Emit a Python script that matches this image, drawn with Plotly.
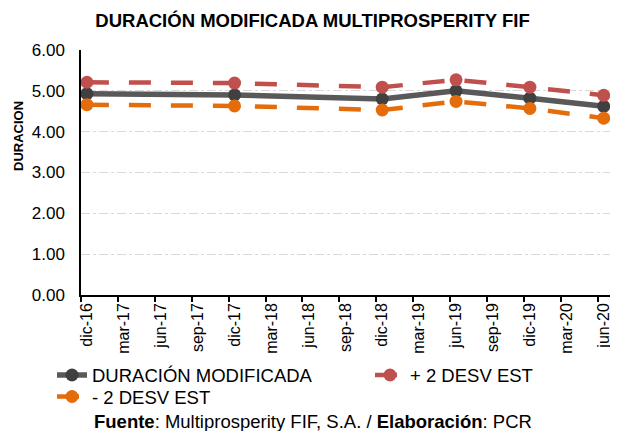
import plotly.graph_objects as go

categories = ["dic-16", "mar-17", "jun-17", "sep-17", "dic-17", "mar-18", "jun-18",
              "sep-18", "dic-18", "mar-19", "jun-19", "sep-19", "dic-19", "mar-20", "jun-20"]
obs_dates = ["dic-16", "dic-17", "dic-18", "jun-19", "dic-19", "jun-20"]
duracion = [4.93, 4.90, 4.80, 5.00, 4.82, 4.62]
mas_2de = [5.21, 5.19, 5.09, 5.27, 5.09, 4.89]
menos_2de = [4.66, 4.63, 4.53, 4.74, 4.57, 4.33]
y_ticks = [0, 1, 2, 3, 4, 5, 6]

xpos = [categories.index(d) for d in obs_dates]
FONT = "Liberation Sans, Arial, sans-serif"

fig = go.Figure()
fig.add_trace(go.Scatter(x=xpos, y=duracion, name="DURACIÓN MODIFICADA", mode="lines+markers",
                         line=dict(color="#595959", width=5.5),
                         marker=dict(color="#404040", size=13), legend="legend"))
fig.add_trace(go.Scatter(x=xpos, y=mas_2de, name="+ 2 DESV EST", mode="lines+markers",
                         line=dict(color="#C0504D", width=4.5, dash="22px,20px"),
                         marker=dict(color="#C0504D", size=13), legend="legend2"))
fig.add_trace(go.Scatter(x=xpos, y=menos_2de, name="- 2 DESV EST", mode="lines+markers",
                         line=dict(color="#E46C0A", width=4.5, dash="22px,20px"),
                         marker=dict(color="#E46C0A", size=13), legend="legend3"))

# page body adds an 8px margin; size the figure so it fills the window
OFF = 8
W, H = 618 - OFF, 431 - OFF
L, R, T = 81 - OFF, 1, 50 - OFF
B = H - (295 - OFF)
pw, ph = W - L - R, H - T - B


def px_x(p):
    return (p - OFF - L) / pw


def px_y(p):
    return (H - B - (p - OFF)) / ph


leg_font = dict(size=18.5, family=FONT, color="#000000")
leg_common = dict(orientation="v", xanchor="left", yanchor="top",
                  font=leg_font, bgcolor="rgba(0,0,0,0)")

fig.update_layout(
    width=W, height=H,
    margin=dict(l=L, r=R, t=T, b=B, autoexpand=False),
    paper_bgcolor="white", plot_bgcolor="white",
    font=dict(family=FONT, color="#000000", size=16),
    title=dict(text="<b>DURACIÓN MODIFICADA MULTIPROSPERITY FIF</b>",
               x=(312.5 - OFF) / W, xanchor="center", y=1 - (21 - OFF) / H, yanchor="middle",
               font=dict(size=18.5, family=FONT, color="#000000")),
    showlegend=True,
    legend=dict(x=px_x(52), y=px_y(356.5), **leg_common),
    legend2=dict(x=px_x(370), y=px_y(356.5), **leg_common),
    legend3=dict(x=px_x(52), y=px_y(378), **leg_common),
    xaxis=dict(range=[-0.16, 14.36], tickmode="array", tickvals=list(range(len(categories))),
               ticktext=categories, tickangle=-90, ticks="", showgrid=False,
               showline=True, linecolor="#000000", linewidth=1.5, zeroline=False,
               ticklabeloverflow="allow",
               tickfont=dict(size=16, family=FONT),
               minor=dict(ticks="outside", tick0=-0.16, dtick=1, ticklen=5,
                          tickcolor="#000000", tickwidth=1.5, showgrid=False)),
    yaxis=dict(range=[0, 6], tickvals=y_ticks, tickformat=".2f", ticks="",
               showgrid=True, gridcolor="#D9D9D9", griddash="dashdot", gridwidth=1,
               showline=True, linecolor="#000000", linewidth=1.5, zeroline=False,
               ticklabelstandoff=11, tickfont=dict(size=17, family=FONT)),
    annotations=[
        dict(text="<b>DURACION</b>", textangle=-90, xref="paper", yref="paper",
             x=px_x(18), y=px_y(136), xanchor="center", yanchor="middle",
             showarrow=False, font=dict(size=13, family=FONT)),
        dict(text="<b>Fuente</b>: Multiprosperity FIF, S.A. / <b>Elaboración</b>: PCR",
             xref="paper", yref="paper", x=px_x(92), y=px_y(421),
             xanchor="left", yanchor="middle", showarrow=False,
             font=dict(size=18.5, family=FONT)),
    ],
)

fig.write_html("out.html")
